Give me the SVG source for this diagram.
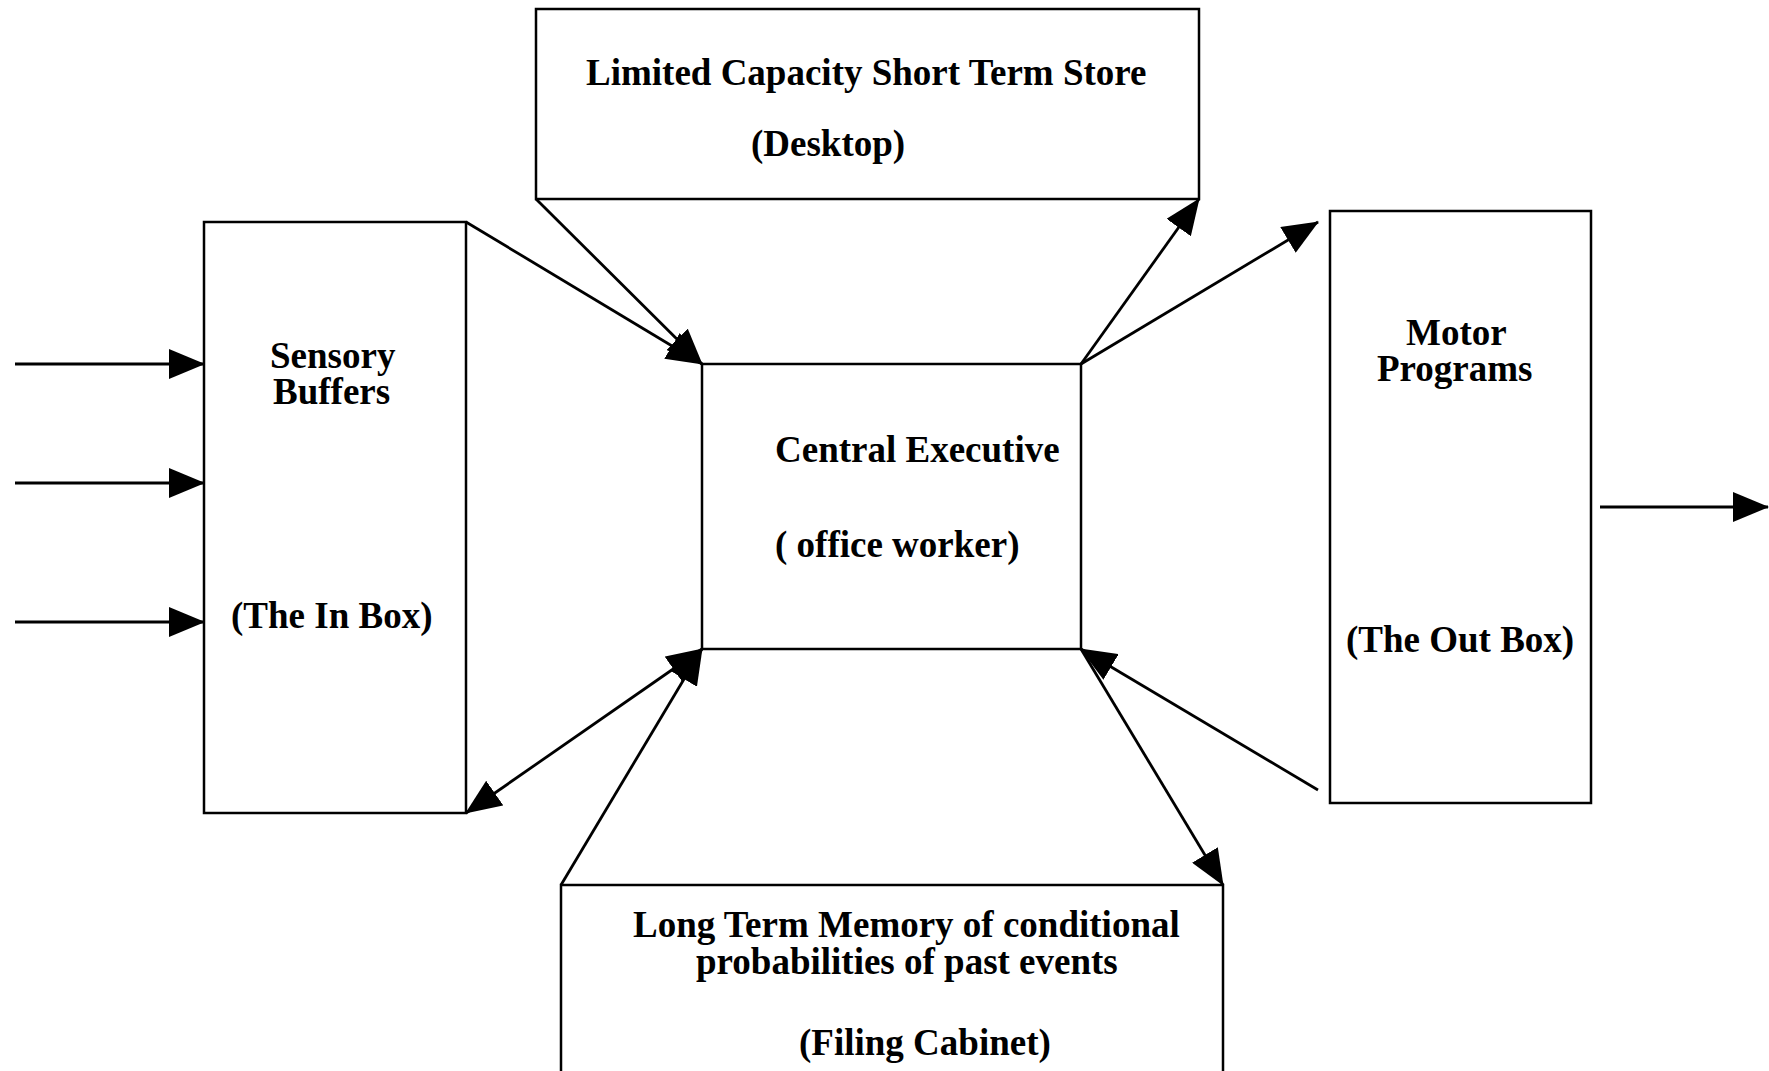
<svg xmlns="http://www.w3.org/2000/svg" width="1769" height="1071" viewBox="0 0 1769 1071">
<style>
.box{fill:#fff;stroke:#000;stroke-width:2.5}
.ln{fill:none;stroke:#000;stroke-width:2.8}
text{font-family:"Liberation Serif","Times New Roman",serif;font-weight:bold;font-size:37px;fill:#000}
</style>
<defs>
<marker id="ah" markerUnits="userSpaceOnUse" viewBox="0 0 36 30" markerWidth="36" markerHeight="30" refX="35" refY="15" orient="auto-start-reverse">
<path d="M0,0 L36,15 L0,30 Z" fill="#000"/>
</marker>
</defs>
<rect width="1769" height="1071" fill="#fff"/>
<g id="desktop">
<rect class="box" x="536" y="9" width="663" height="190"/>
<text x="586" y="85">Limited Capacity Short Term Store</text>
<text x="751" y="156">(Desktop)</text>
</g>
<g id="sensory">
<rect class="box" x="204" y="222" width="262" height="591"/>
<text x="270" y="368">Sensory</text>
<text x="273" y="404">Buffers</text>
<text x="231" y="628">(The In Box)</text>
</g>
<g id="central">
<rect class="box" x="702" y="364" width="379" height="285"/>
<text x="775" y="462">Central Executive</text>
<text x="775" y="557">( office worker)</text>
</g>
<g id="motor">
<rect class="box" x="1330" y="211" width="261" height="592"/>
<text x="1406" y="345">Motor</text>
<text x="1377" y="381">Programs</text>
<text x="1346" y="652">(The Out Box)</text>
</g>
<g id="ltm">
<rect class="box" x="561" y="885" width="662" height="200"/>
<text x="633" y="937">Long Term Memory of conditional</text>
<text x="696" y="974">probabilities of past events</text>
<text x="799" y="1055">(Filing Cabinet)</text>
</g>
<g id="connectors">
<line class="ln" x1="15" y1="364" x2="204" y2="364" marker-end="url(#ah)"/>
<line class="ln" x1="15" y1="483" x2="204" y2="483" marker-end="url(#ah)"/>
<line class="ln" x1="15" y1="622" x2="204" y2="622" marker-end="url(#ah)"/>
<line class="ln" x1="1600" y1="507" x2="1768" y2="507" marker-end="url(#ah)"/>
<line class="ln" x1="466" y1="222" x2="702" y2="364" marker-end="url(#ah)"/>
<line class="ln" x1="536" y1="199" x2="702" y2="364" marker-end="url(#ah)"/>
<line class="ln" x1="1081" y1="364" x2="1199" y2="199" marker-end="url(#ah)"/>
<line class="ln" x1="1081" y1="364" x2="1318" y2="222" marker-end="url(#ah)"/>
<line class="ln" x1="702" y1="649" x2="466" y2="813" marker-start="url(#ah)" marker-end="url(#ah)"/>
<line class="ln" x1="561" y1="885" x2="702" y2="649" marker-end="url(#ah)"/>
<line class="ln" x1="1081" y1="649" x2="1223" y2="885" marker-end="url(#ah)"/>
<line class="ln" x1="1318" y1="790" x2="1081" y2="649" marker-end="url(#ah)"/>
</g>
</svg>
